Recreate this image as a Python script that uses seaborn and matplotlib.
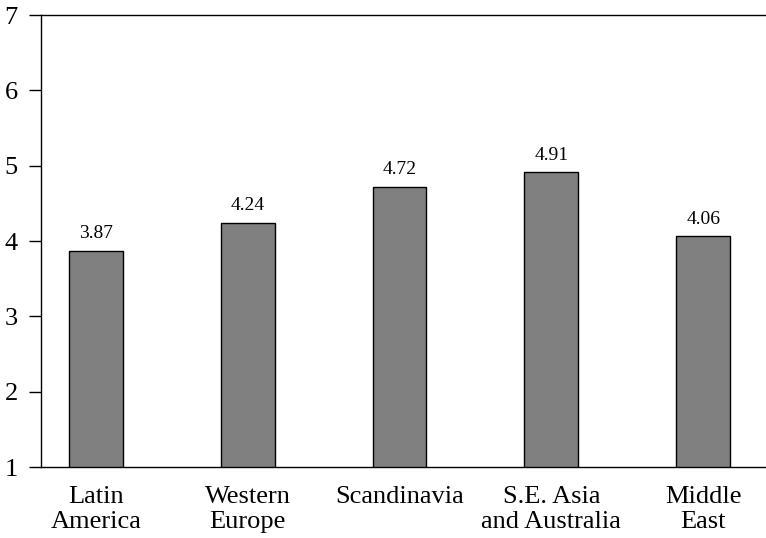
import matplotlib
matplotlib.use("Agg")
import matplotlib.pyplot as plt
import seaborn as sns
import pandas as pd

categories = ["Latin\nAmerica", "Western\nEurope", "Scandinavia", "S.E. Asia\nand Australia", "Middle\nEast"]
values = [3.87, 4.24, 4.72, 4.91, 4.06]
value_labels = ["3.87", "4.24", "4.72", "4.91", "4.06"]
yticks = [1, 2, 3, 4, 5, 6, 7]

sns.set_theme(style="white")
plt.rcParams["font.family"] = ["Liberation Serif", "DejaVu Serif"]
plt.rcParams["text.color"] = "black"
plt.rcParams["xtick.color"] = "black"
plt.rcParams["ytick.color"] = "black"

df = pd.DataFrame({"region": categories, "value": values})

fig = plt.figure(figsize=(7.66, 5.38), dpi=100)
ax = fig.add_axes([41/766, 1-467/538, 1-41/766, (467-15)/538])

sns.barplot(data=df, x="region", y="value", ax=ax, color="#808080",
            saturation=1, width=0.355, edgecolor="black", linewidth=1.0)

for p, lab in zip(ax.patches, value_labels):
    ax.annotate(lab, (p.get_x() + p.get_width()/2, p.get_height()),
                xytext=(0, 9), textcoords="offset points",
                ha="center", va="baseline", fontsize=14, color="black")

ax.set_ylim(1, 7)
ax.set_yticks(yticks)
ax.set_xlim(-0.362, 4.414)
ax.set_xlabel("")
ax.set_ylabel("")

for s in ["left", "top", "bottom"]:
    ax.spines[s].set_visible(True)
    ax.spines[s].set_color("black")
    ax.spines[s].set_linewidth(1.0)
ax.spines["right"].set_visible(False)

ax.tick_params(axis="y", which="both", left=True, length=8.6, width=1.0,
               color="black", labelcolor="black", labelsize=19, pad=8, direction="out")
ax.tick_params(axis="x", bottom=False, labelsize=19, labelcolor="black", pad=8)
for t in ax.get_xticklabels():
    t.set_linespacing(1.15)

fig.savefig("out.png", dpi=100)
